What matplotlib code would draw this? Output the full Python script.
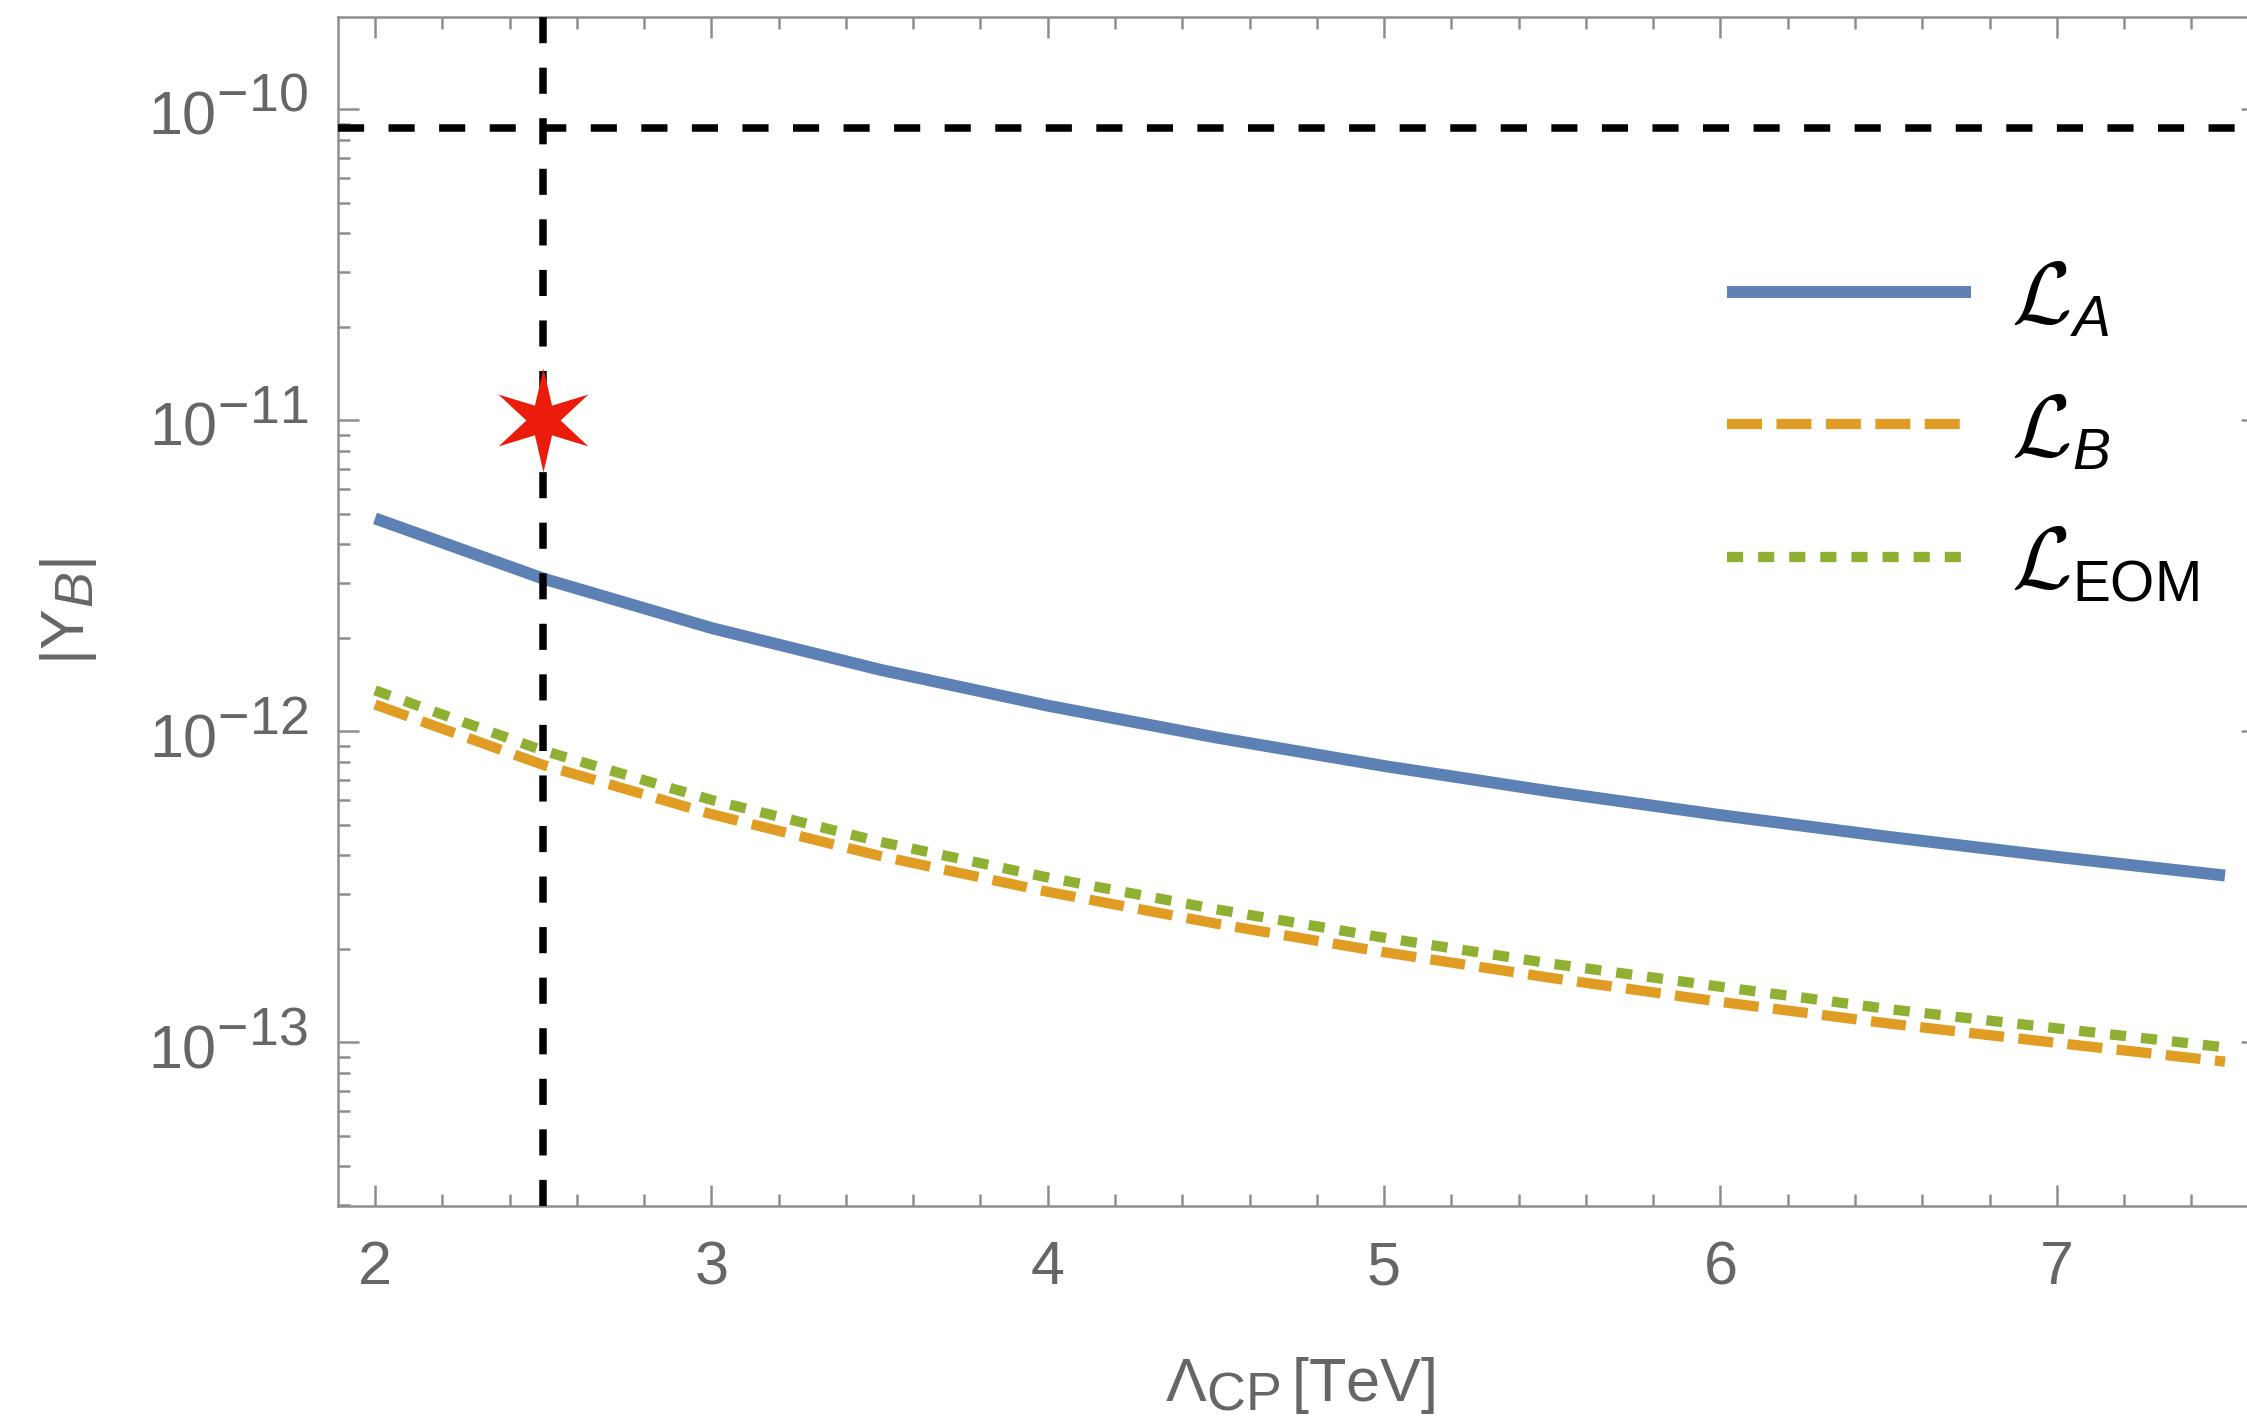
import numpy as np
import matplotlib
matplotlib.use("Agg")
import matplotlib.pyplot as plt
import matplotlib._mathtext as _mathtext
from matplotlib.path import Path
from matplotlib.ticker import LogLocator, MultipleLocator, NullFormatter

# Sub/superscripts drawn close to full size, as in the typeset labels
LABEL_SHRINK = 0.88
LEGEND_SHRINK = 0.65
_mathtext.SHRINK_FACTOR = LABEL_SHRINK

# ---------------------------------------------------------------- data
lam_cp = [2.0, 2.5, 3.0, 3.5, 4.0, 4.5, 5.0, 5.5, 6.0, 6.5, 7.0, 7.5]  # TeV

yb_A = [4.84e-12, 3.10e-12, 2.15e-12, 1.58e-12, 1.21e-12, 9.56e-13,
        7.74e-13, 6.40e-13, 5.38e-13, 4.58e-13, 3.95e-13, 3.44e-13]
yb_B = [1.22e-12, 7.80e-13, 5.42e-13, 3.98e-13, 3.05e-13, 2.41e-13,
        1.95e-13, 1.61e-13, 1.35e-13, 1.15e-13, 9.96e-14, 8.67e-14]
yb_EOM = [1.355e-12, 8.67e-13, 6.02e-13, 4.42e-13, 3.39e-13, 2.68e-13,
          2.17e-13, 1.79e-13, 1.51e-13, 1.28e-13, 1.11e-13, 9.64e-14]

series_labels = [r"$\mathcal{L}_{A}$", r"$\mathcal{L}_{B}$",
                 r"$\mathcal{L}_{\mathrm{EOM}}$"]

yb_observed = 8.7e-11      # horizontal reference line
lam_reference = 2.5        # vertical reference line
star_lam = [2.5]
star_yb = [1.0e-11]

x_ticks = [2, 3, 4, 5, 6, 7]
x_ticklabels = ["2", "3", "4", "5", "6", "7"]
y_ticks = [1e-13, 1e-12, 1e-11, 1e-10]
y_ticklabels = [r"$10^{-13}$", r"$10^{-12}$", r"$10^{-11}$", r"$10^{-10}$"]

x_label = r"$\Lambda_{\mathrm{CP}}\,[\mathrm{TeV}]$"
y_label = r"$|\mathrm{Y}_{\mathit{B}}|$"

# ---------------------------------------------------------------- style
plt.rcParams["font.family"] = ["Liberation Sans", "DejaVu Sans"]
plt.rcParams["mathtext.fontset"] = "custom"
plt.rcParams["mathtext.rm"] = "Liberation Sans"
plt.rcParams["mathtext.it"] = "Liberation Sans:italic"
plt.rcParams["mathtext.bf"] = "Liberation Sans:bold"
plt.rcParams["mathtext.cal"] = "cmsy10"
plt.rcParams["mathtext.fallback"] = "stix"
plt.rcParams["lines.scale_dashes"] = False

BLUE = "#5E81B5"
ORANGE = "#E19C24"
GREEN = "#8FB032"
STAR_RED = "#EC1C0C"
FRAME = "#8E8E8E"
LABEL_GREY = "#666666"

W, H, DPI = 2247, 1425, 200
fig = plt.figure(figsize=(W / DPI, H / DPI), dpi=DPI)
# frame runs slightly past the right edge of the canvas
ax = fig.add_axes([338 / W, 219 / H, (2262 - 338) / W, (1206 - 17) / H])
ax.set_yscale("log")

ax.plot(lam_cp, yb_A, color=BLUE, lw=4.3, solid_capstyle="butt",
        label=series_labels[0], zorder=2)
ax.plot(lam_cp, yb_B, color=ORANGE, lw=3.7, dashes=(12.6, 5.2),
        dash_capstyle="butt", label=series_labels[1], zorder=2)
ax.plot(lam_cp, yb_EOM, color=GREEN, lw=3.7, dashes=(5.8, 5.4),
        dash_capstyle="butt", label=series_labels[2], zorder=2)

ax.axhline(yb_observed, color="black", lw=2.7, dashes=(9.4, 8.8), zorder=3)
ax.axvline(lam_reference, color="black", lw=2.7, dashes=(9.4, 8.8), zorder=3)

# six-pointed star marker
outer = np.deg2rad(90 + 60 * np.arange(6))
verts = []
for a in outer:
    verts.append((np.cos(a), np.sin(a)))
    b = a + np.deg2rad(30)
    verts.append((0.33 * np.cos(b), 0.33 * np.sin(b)))
verts.append(verts[0])
star = Path(verts, [Path.MOVETO] + [Path.LINETO] * 11 + [Path.CLOSEPOLY])
ax.plot(star_lam, star_yb, ls="none", marker=star, ms=37.4,
        color=STAR_RED, mec="none", zorder=5)

# ---------------------------------------------------------------- axes
ax.set_xlim(1.89, 7.61)
ax.set_ylim(10 ** -13.526, 10 ** -9.703)

ax.set_xticks(x_ticks, labels=x_ticklabels)
ax.xaxis.set_minor_locator(MultipleLocator(0.2))
ax.set_yticks(y_ticks, labels=y_ticklabels)
ax.yaxis.set_minor_locator(LogLocator(base=10, subs=np.arange(2, 10)))
ax.yaxis.set_minor_formatter(NullFormatter())

ax.tick_params(which="both", direction="in", top=True, right=True,
               color=FRAME, width=0.9)
ax.tick_params(which="major", length=7.5)
ax.tick_params(which="minor", length=4.3)
ax.tick_params(axis="both", labelsize=22, labelcolor=LABEL_GREY)
ax.tick_params(axis="x", pad=12.3)
ax.tick_params(axis="y", pad=10.8)

for sp in ax.spines.values():
    sp.set_color(FRAME)
    sp.set_linewidth(0.9)

ax.set_xlabel(x_label, fontsize=22, color=LABEL_GREY)
ax.xaxis.set_label_coords(0.5, -0.1253)
ax.set_ylabel(y_label, fontsize=22, color=LABEL_GREY)
ax.yaxis.set_label_coords(-0.1403, 0.5)
ax.yaxis.label.set_va("center")

leg = ax.legend(loc="center left", bbox_to_anchor=(0.722, 0.650),
                frameon=False, fontsize=31.5, handlelength=2.79,
                handletextpad=0.45, labelspacing=0.58, borderpad=0,
                borderaxespad=0, handleheight=0.8)

# legend subscripts are set smaller relative to the script L
_legend_draw = leg.draw


def _draw_legend(renderer):
    _mathtext.SHRINK_FACTOR = LEGEND_SHRINK
    try:
        _legend_draw(renderer)
    finally:
        _mathtext.SHRINK_FACTOR = LABEL_SHRINK


leg.draw = _draw_legend

fig.savefig("out.png", dpi=DPI)
